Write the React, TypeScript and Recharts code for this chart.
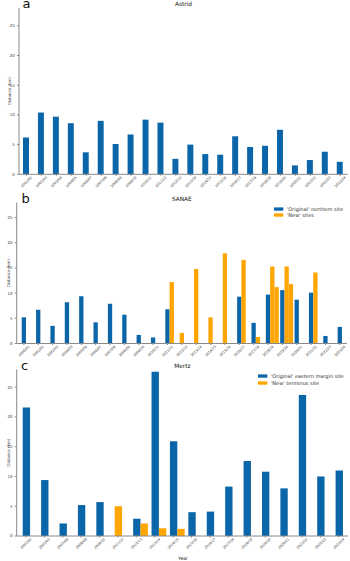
import { Bar, BarChart, Legend, XAxis, YAxis } from 'recharts'

const BLUE = '#0b66a9'
const ORANGE = '#ffa500'
const FRAME = '#8a8a8a'
const INK = '#333'
const FONT = '"DejaVu Sans", sans-serif'

const yTicks = [0, 5, 10, 15, 20, 25]

// a) Astrid
const astridYears = [
  '2001/02', '2002/03', '2003/04', '2004/05', '2006/07', '2007/08', '2008/09', '2009/10',
  '2010/11', '2011/12', '2012/13', '2013/14', '2014/15', '2015/16', '2016/17', '2017/18',
  '2018/19', '2019/20', '2020/21', '2021/22', '2022/23', '2023/24',
]
const astridDistance = [
  6.2, 10.4, 9.7, 8.6, 3.7, 9.0, 5.1, 6.7, 9.2, 8.7, 2.6,
  5.0, 3.4, 3.3, 6.4, 4.6, 4.8, 7.5, 1.5, 2.4, 3.8, 2.1,
]

// b) SANAE
const sanaeYears = [
  '2000/01', '2001/02', '2002/03', '2004/05', '2005/06', '2006/07', '2007/08', '2008/09',
  '2009/10', '2010/11', '2011/12', '2012/13', '2013/14', '2014/15', '2015/16', '2016/17',
  '2017/18', '2018/19', '2019/20', '2020/21', '2021/22', '2022/23', '2023/24',
]
const sanaeOriginal = [
  5.2, 6.7, 3.5, 8.2, 9.4, 4.2, 7.9, 5.7, 1.7, 1.2, 6.8, null,
  null, null, null, 9.3, 4.1, 9.7, 10.6, 8.7, 10.1, 1.5, 3.3,
]
const sanaeNew = [
  null, null, null, null, null, null, null, null, null, null, 12.2, 2.1,
  14.8, 5.2, 17.9, 16.6, 1.3, 15.3, 15.3, null, 14.1, null, null,
]
const sanaeNew2 = [
  null, null, null, null, null, null, null, null, null, null, null, null,
  null, null, null, null, null, 11.2, 11.8, null, null, null, null,
]

// c) Mertz
const mertzYears = [
  '2001/02', '2002/03', '2007/08', '2008/09', '2009/10', '2011/12', '2012/13', '2013/14',
  '2014/15', '2015/16', '2016/17', '2017/18', '2018/19', '2019/20', '2020/21', '2021/22',
  '2022/23', '2023/24',
]
const mertzOriginal = [
  21.6, 9.4, 2.1, 5.2, 5.7, null, 2.9, 27.6, 15.9,
  4.0, 4.1, 8.3, 12.6, 10.8, 8.0, 23.7, 10.0, 11.0,
]
const mertzNew = [
  null, null, null, null, null, 5.0, 2.1, 1.3, 1.2,
  null, null, null, null, null, null, null, null, null,
]

type Num = number | null

interface PanelProps {
  years: string[]
  original: Num[]
  newSite?: Num[]
  newSite2?: Num[]
  top: number
  height: number
  plot: { left: number; right: number; top: number; bottom: number }
  frac: number
  labelX: number
  legend?: { left: number; top: number; gap: number; items: { label: string; color: string }[] }
}

function YearTick({ x, y, payload }: any) {
  return (
    <g transform={`translate(${x},${y + 6})`}>
      <text transform="rotate(-45)" textAnchor="middle" dy="0.35em" fontSize={3.4} fill={INK} fontFamily={FONT}>
        {payload.value}
      </text>
    </g>
  )
}

function Panel({ years, original, newSite, newSite2, top, height, plot, frac, labelX, legend }: PanelProps) {
  const plotW = plot.right - plot.left
  const bw = (frac * plotW) / years.length
  // orange sits beside the blue bar when both exist, at the tick when alone
  const rows = years.map((year, i) => {
    const o = original[i]
    const n = newSite ? newSite[i] : null
    return {
      year,
      original: o,
      solo: o == null ? n : null,
      beside: o != null ? n : null,
      second: newSite2 ? newSite2[i] : null,
    }
  })

  return (
    <div style={{ position: 'absolute', left: 0, top }}>
      <BarChart
        width={350}
        height={height}
        data={rows}
        margin={{ top: plot.top - top, right: 350 - plot.right, bottom: 0, left: 0 }}
      >
        <XAxis
          dataKey="year"
          interval={0}
          height={height - (plot.bottom - top)}
          tick={<YearTick />}
          tickSize={1.5}
          tickMargin={0}
          axisLine={{ stroke: FRAME }}
          tickLine={{ stroke: FRAME }}
        />
        <XAxis xAxisId="s1" dataKey="year" hide padding={{ left: bw, right: -bw }} />
        <XAxis xAxisId="s2" dataKey="year" hide padding={{ left: 2 * bw, right: -2 * bw }} />
        <XAxis xAxisId="top" orientation="top" dataKey="year" height={0} tick={false} tickLine={false} axisLine={{ stroke: FRAME }} />
        <YAxis
          domain={[0, 28]}
          ticks={yTicks}
          interval={0}
          width={plot.left}
          tickSize={2}
          tickMargin={2.3}
          axisLine={{ stroke: FRAME }}
          tickLine={{ stroke: FRAME }}
          tick={{ fontSize: 3.9, fill: INK, fontFamily: FONT }}
          label={{
            value: 'Distance (km)',
            angle: -90,
            position: 'insideLeft',
            offset: labelX,
            style: { textAnchor: 'middle', fontSize: 4, fill: INK, fontFamily: FONT },
          }}
        />
        <YAxis yAxisId="right" orientation="right" width={0} domain={[0, 28]} tick={false} tickLine={false} axisLine={{ stroke: FRAME }} />
        <Bar dataKey="original" stackId="mid" fill={BLUE} barSize={bw} isAnimationActive={false} />
        {newSite && <Bar dataKey="solo" stackId="mid" fill={ORANGE} barSize={bw} isAnimationActive={false} />}
        {newSite && <Bar xAxisId="s1" dataKey="beside" fill={ORANGE} barSize={bw} isAnimationActive={false} />}
        {newSite2 && <Bar xAxisId="s2" dataKey="second" fill={ORANGE} barSize={bw} isAnimationActive={false} />}
        {legend && (
          <Legend
            layout="vertical"
            align="center"
            verticalAlign="middle"
            wrapperStyle={{ left: legend.left, top: legend.top - top, width: 90, height: 16 }}
            content={() => (
              <svg width={90} height={16} style={{ display: 'block' }}>
                {legend.items.map((it, i) => (
                  <g key={it.label} transform={`translate(0,${2 + i * legend.gap})`}>
                    <rect x={0} y={-1.6} width={9.3} height={3.3} fill={it.color} />
                    <text x={13} y={0} dy="0.35em" fontSize={5} fill={INK} fontFamily={FONT}>
                      {it.label}
                    </text>
                  </g>
                ))}
              </svg>
            )}
          />
        )}
      </BarChart>
    </div>
  )
}

export default function App() {
  return (
    <div style={{ position: 'absolute', left: 0, top: 0, width: 350, height: 561, background: '#fff' }}>
      <Panel
        years={astridYears}
        original={astridDistance}
        top={0}
        height={192}
        plot={{ left: 19, right: 347.7, top: 8, bottom: 174.3 }}
        frac={0.4}
        labelX={10}
      />
      <Panel
        years={sanaeYears}
        original={sanaeOriginal}
        newSite={sanaeNew}
        newSite2={sanaeNew2}
        top={188}
        height={175}
        plot={{ left: 16.7, right: 347, top: 202.5, bottom: 343.5 }}
        frac={0.3}
        labelX={9}
        legend={{
          left: 274,
          top: 207.3,
          gap: 6,
          items: [
            { label: "'Original' northern site", color: BLUE },
            { label: "'New' sites", color: ORANGE },
          ],
        }}
      />
      <Panel
        years={mertzYears}
        original={mertzOriginal}
        newSite={mertzNew}
        top={362}
        height={192}
        plot={{ left: 16.7, right: 348, top: 369.3, bottom: 536 }}
        frac={0.4}
        labelX={9}
        legend={{
          left: 258,
          top: 373.8,
          gap: 7,
          items: [
            { label: "'Original' eastern margin site", color: BLUE },
            { label: "'New' terminus site", color: ORANGE },
          ],
        }}
      />
      <svg width={350} height={561} style={{ position: 'absolute', left: 0, top: 0, pointerEvents: 'none' }}>
        <g fontFamily={FONT} fill="#111">
          <text x={22.5} y={8} fontSize={13}>a</text>
          <text x={183.4} y={5.5} fontSize={5.8} textAnchor="middle">Astrid</text>
          <text x={21.5} y={203} fontSize={13}>b</text>
          <text x={181.8} y={201} fontSize={5.8} textAnchor="middle">SANAE</text>
          <text x={21} y={370} fontSize={13}>c</text>
          <text x={182.4} y={367.5} fontSize={5.8} textAnchor="middle">Mertz</text>
          <text x={183} y={560} fontSize={4.4} textAnchor="middle">Year</text>
        </g>
      </svg>
    </div>
  )
}
